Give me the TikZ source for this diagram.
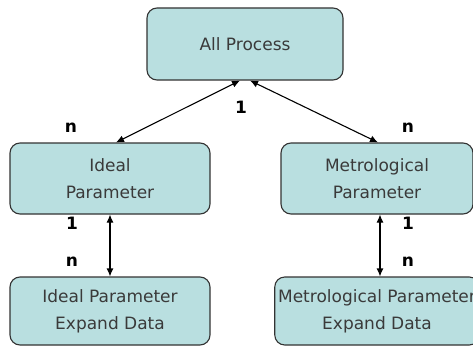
\documentclass[tikz,border=0pt]{standalone}
\usepackage{fontspec}
\setmainfont{DejaVu Sans}
\usetikzlibrary{arrows.meta}
\definecolor{boxfill}{HTML}{B9DFE0}
\definecolor{boxtext}{HTML}{3A3A3A}
\newcommand{\boxfont}{\fontsize{17}{27}\selectfont}
\tikzstyle{procbox} = [rectangle, rounded corners = 10pt, draw = black!80, line width = 1.1pt, fill = boxfill, text = boxtext, align = center, font = \boxfont]
\tikzstyle{card} = [font = \fontsize{17}{20}\selectfont\bfseries, inner sep = 0pt]
\tikzstyle{link} = [{Latex[length=8pt,width=7pt]}-{Latex[length=8pt,width=7pt]}, line width = 1.1pt]

\begin{document}
\begin{tikzpicture}[x = 1pt, y = -1pt]
  \useasboundingbox (0, 0) rectangle (473, 345);
  \node[procbox, minimum width = 196pt, minimum height = 72pt] (all) at (245, 44) {All Process};
  \node[procbox, minimum width = 200pt, minimum height = 71pt] (ideal) at (110, 178.5) {Ideal\\Parameter};
  \node[procbox, minimum width = 192pt, minimum height = 71pt] (metro) at (377, 178.5) {Metrological\\Parameter};
  \node[procbox, minimum width = 200pt, minimum height = 68pt] (idealexp) at (110, 311) {Ideal Parameter\\Expand Data};
  \node[procbox, minimum width = 192pt, minimum height = 68pt] (metroexp) at (377, 311) {Metrological Parameter\\Expand Data};
  \draw[link] ([xshift = -5pt]all.south) -- ([xshift = 6pt]ideal.north);
  \draw[link] ([xshift = 5pt]all.south) -- ([xshift = 1pt]metro.north);
  \draw[link] (ideal) -- (idealexp);
  \draw[link] ([xshift = 3pt]metro.south) -- ([xshift = 3pt]metroexp.north);
  \node[card] (one) at (241, 107) {1};
  \node[card] (nideal) at (71, 128) {n};
  \node[card] (nmetro) at (408, 128) {n};
  \foreach \x\side in {72/ideal, 408/metro} {
    \node[card] (one\side) at (\x, 223) {1};
    \node[card] (n\side exp) at (\x, 262) {n};
  }
\end{tikzpicture}
\end{document}
